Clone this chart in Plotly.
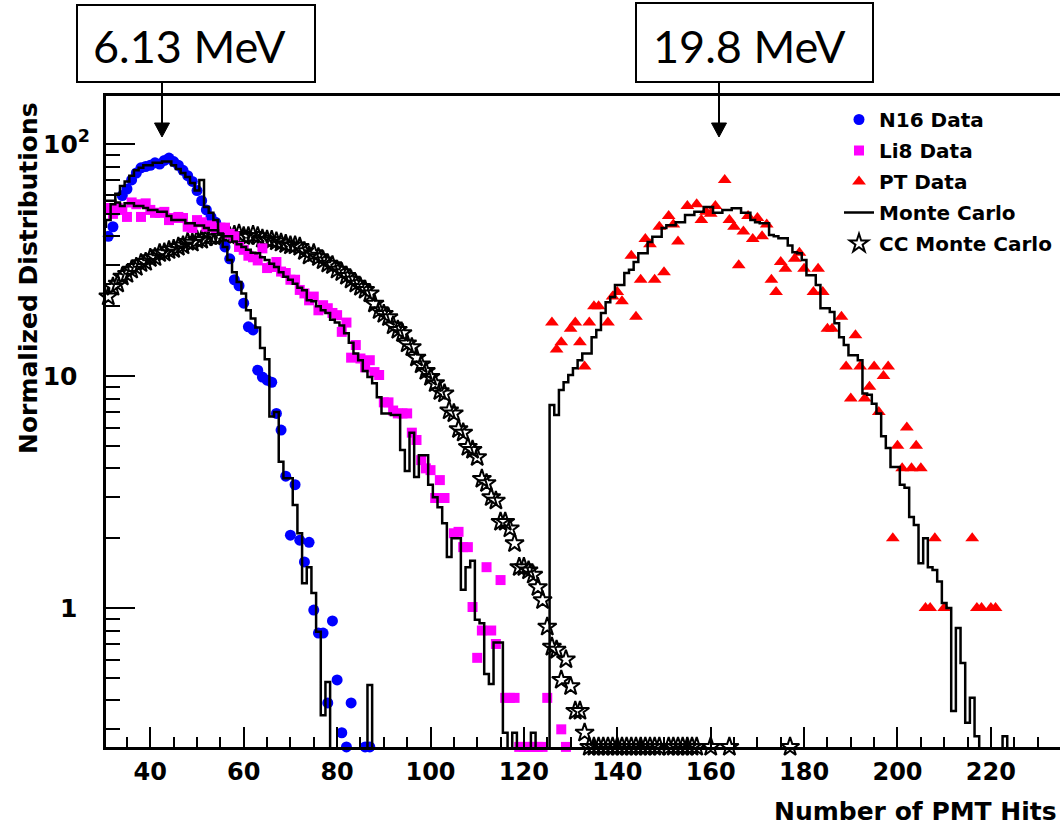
import plotly.graph_objects as go

# ---------------- data ----------------
FLOOR = 0.252   # entries that ROOT draws on the lower frame (underflow)
EMPTY = 0.01    # empty Monte Carlo bins

# N16 data (blue circles)
n16_x = list(range(30, 84)) + [86, 87]
n16_y = [38, 40, 44, 52, 60, 64, 70, 75, 79, 80,
         81, 83, 82, 85, 87, 84, 81, 77, 73, 69,
         63, 57, 52, 48.5, 46, 43, 36, 32, 26, 24.5,
         20.6, 16.3, 15.8, 10.6, 9.9, 9.6, 9.4, 6.9, 5.85, 3.7,
         2.06, 3.4, 1.96, 1.58, 1.92, 0.98, 0.78, 0.78, 0.39, 0.88,
         0.49, 0.29, FLOOR, 0.39, FLOOR, FLOOR]

# N16 Monte Carlo (histogram, 1-hit bins)
n16_mc_x = list(range(30, 89))
n16_mc_y = [44, 47, 55, 61, 66, 69, 73, 77, 79, 81,
            81, 83, 83, 84, 84, 81, 78, 75, 72, 68,
            63, 70, 53.5, 50.5, 47, 41, 36, 31.6, 28, 25.4,
            22.7, 19.2, 17.7, 16.2, 13.2, 11.8, 6.7, 7.0, 4.27, 3.63,
            3.63, 2.78, 2.1, 1.28, 1.5, 1.16, 0.79, 0.345, 0.48, EMPTY,
            EMPTY, EMPTY, EMPTY, EMPTY, EMPTY, EMPTY, EMPTY, 0.466, EMPTY]

# Li8 data (magenta squares)
li8_x = list(range(30, 104)) + [105, 106, 107, 108, 109, 110, 111, 112, 113, 114,
                                115, 116, 117, 118, 119, 120, 121, 122, 123, 124,
                                125, 128, 129]
li8_y = [52, 53, 50, 53, 52, 48.5, 56, 55, 48.5, 55.5,
         52, 50.5, 50.5, 51, 47, 48, 48.5, 48, 44, 43.5,
         47, 46, 44, 44.6, 43.5, 43.6, 43.6, 41, 40, 36,
         35, 33, 32.5, 31.5, 35.5, 29.2, 29.5, 31, 28.2, 27.8,
         26, 26, 23.5, 22.7, 21.2, 22, 19.2, 20.2, 19.6, 18.7,
         18.3, 15.5, 17, 12, 13.6, 11.9, 10.9, 11.7, 10.4, 10.1,
         7.7, 7.7, 7.1, 6.9, 6.9, 6.9, 5.7, 5.3, 4.34, 4.0,
         3.93, 2.98, 3.56, 2.98,
         2.1, 2.13, 1.83, 1.83, 1.01, 0.61, 0.8, 1.5, 0.8, 0.7,
         1.32, 0.41, 0.41, 0.41, FLOOR, FLOOR, FLOOR, FLOOR, FLOOR, FLOOR,
         0.41, 0.30, FLOOR]

# Li8 Monte Carlo
li8_mc_x = list(range(30, 125))
li8_mc_y = [57, 57, 57, 56, 54, 55.5, 55.5, 54, 54, 53,
            52, 52, 51, 51, 49, 47, 47, 47, 45.5, 45.5,
            44.6, 44.6, 43.5, 42.5, 42.5, 41, 40, 40, 38, 37,
            36, 35, 34, 33.8, 32.5, 31.6, 30.5, 29.5, 28, 26.8,
            26, 25, 24, 23.4, 21.2, 21, 20, 19.2, 18.7, 17.5,
            17, 16.5, 15.3, 13.9, 12.5, 11.7, 10.5, 9.9, 9.3, 8.1,
            6.9, 6.9, 6.8, 6.8, 4.8, 3.9, 5.7, 3.67, 4.55, 4.55,
            3.4, 3.0, 2.72, 2.32, 1.66, 2.0, 2.0, 1.2, 1.5, 1.6,
            0.89, 0.86, 0.52, 0.47, 0.71, 0.71, 0.29, EMPTY, 0.29, EMPTY,
            EMPTY, EMPTY, 0.29, EMPTY, EMPTY]

# PT data (red triangles)
pt_x = [126, 127, 128, 130, 131, 132, 133, 134, 135, 136,
        138, 139, 140, 141, 143, 144, 145, 146, 147, 148,
        149, 150, 151, 152, 153, 155, 157, 158, 159, 160,
        161, 163, 164, 165, 166, 167, 168, 169, 170, 171,
        172, 173, 174, 175, 176, 178, 179, 180, 182, 183,
        184, 185, 186, 188, 189, 190, 191, 192, 193, 194,
        195, 196, 197, 198, 199, 200, 201, 202, 203, 204,
        205, 206, 207, 208, 210, 216, 217, 218, 220, 221]
pt_y = [17, 13, 14, 16, 17, 14, 11, 17, 20, 20,
        17, 22, 23, 21, 33, 18, 26, 39, 37, 26,
        44, 28, 49, 45, 38, 54, 55, 47, 51, 50,
        54, 70, 47, 44, 30, 42, 49, 39, 48, 40,
        45, 26, 23, 31, 29, 32, 34, 29, 23, 29,
        23, 16, 16, 18, 11, 8, 15, 11, 8, 9,
        11, 7, 10, 11, 2, 5, 4, 6, 4, 5,
        4, 1, 1, 2, 1, 2, 1, 1, 1, 1]

# PT Monte Carlo
pt_mc_x = list(range(124, 226))
pt_mc_y = [EMPTY, EMPTY, 7.5, 6.8, 8.7, 9.4, 10.1, 10.8, 11.7, 12.5,
           12.5, 14.7, 15.8, 18.7, 20.8, 21.9, 24.7, 24.7, 27.8, 28.7,
           31, 33.8, 33.8, 37.8, 39.8, 39.8, 43.5, 44.7, 44.7, 46,
           46, 49.4, 49.4, 51, 51, 53.5, 53.5, 50.5, 50.5, 52,
           52, 52.8, 52.8, 50.5, 50.5, 47, 46, 45.5, 45.5, 40.5,
           40, 39.3, 39.3, 36.5, 34.2, 33.8, 31.6, 27.2, 27.2, 24.7,
           19.6, 19.6, 18.9, 16.9, 14.7, 13.6, 12.3, 12.3, 11.7, 8.4,
           8.3, 7.6, 6.9, 5.5, 4.9, 4.05, 4.05, 3.4, 3.3, 2.47,
           2.28, 1.56, 2.0, 1.5, 1.46, 1.3, 1.05, 1.0, 0.36, 0.82,
           0.58, 0.32, 0.41, 0.28, EMPTY, EMPTY, EMPTY, EMPTY, EMPTY, 0.28,
           EMPTY, EMPTY]

# CC Monte Carlo (open stars)
cc_x = list(range(30, 150)) + [151, 152, 153, 154, 155, 156, 157, 160, 164, 177]
cc_y = [21.3, 22, 24.2, 25, 26.8, 27.5, 28.7, 29.5, 30.6, 31,
        32.2, 32.5, 33.8, 34, 34.8, 35.2, 36, 36.5, 37.8, 37.5,
        38.6, 38.6, 39.5, 40, 39.5, 40, 40.5, 40, 40.5, 41,
        40, 40, 40.5, 40, 39, 38.6, 38.5, 38, 37.5, 37,
        36.5, 36.5, 36, 34.5, 33, 33.8, 32.5, 31.5, 30.5, 30,
        28.7, 28, 27, 26, 25, 24.2, 23.5, 22.7, 20.5, 19.2,
        18.5, 17.9, 16.5, 15.8, 15.3, 13.8, 13.3, 12, 11.2, 10.5,
        9.9, 9.3, 8.6, 8.4, 7.1, 6.9, 5.9, 5.7, 4.94, 4.8,
        4.47, 3.6, 3.45, 3.0, 2.9, 2.35, 2.35, 2.2, 1.9, 1.5,
        1.5, 1.45, 1.39, 1.23, 1.08, 0.83, 0.68, 0.66, 0.49, 0.6,
        0.46, 0.36, 0.36, 0.29] + [FLOOR] * 26

# axis tick labels
y_tickvals = [1, 10, 100]
y_ticktext = ["1\u2002", "10\u2002", "10<sup>2</sup>"]
y_minor = [m * d for d in (0.1, 1, 10) for m in range(2, 10)]

# ---------------- figure ----------------
FONT = "DejaVu Sans"
fig = go.Figure()

fig.add_trace(go.Scatter(
    x=cc_x, y=cc_y, mode="markers", name="CC Monte Carlo", legendrank=5,
    legendgroup="cc", cliponaxis=False,
    marker=dict(symbol="star-open", size=14, color="black",
                line=dict(width=2, color="black"))))

fig.add_trace(go.Scatter(
    x=n16_x, y=n16_y, mode="markers", name="N16 Data", legendrank=1,
    legendgroup="n16", cliponaxis=False,
    marker=dict(symbol="circle", size=11, color="#0000ff")))

fig.add_trace(go.Scatter(
    x=li8_x, y=li8_y, mode="markers", name="Li8 Data", legendrank=2,
    legendgroup="li8", cliponaxis=False,
    marker=dict(symbol="square", size=10, color="#ff00ff")))

fig.add_trace(go.Scatter(
    x=pt_x, y=pt_y, mode="markers", name="PT Data", legendrank=3,
    legendgroup="pt", cliponaxis=False,
    marker=dict(symbol="triangle-up", size=12, color="#ff0000")))

for i, (xs, ys) in enumerate([(n16_mc_x, n16_mc_y),
                              (li8_mc_x, li8_mc_y),
                              (pt_mc_x, pt_mc_y)]):
    fig.add_trace(go.Scatter(
        x=xs, y=ys, mode="lines", name="Monte Carlo", legendrank=4,
        legendgroup="mc", showlegend=(i == 0),
        line=dict(shape="hvh", color="black", width=2.5)))

W, H = 1060, 825
ML, MR, MT, MB = 106, 0, 96, 78
PW, PH = W - ML - MR, H - MT - MB


def px(xp):
    return (xp - ML) / PW


def py(yp):
    return (H - MB - yp) / PH


def arrow(xc, y_top, y_tip, half=7.5, head=14):
    return [
        dict(type="line", xref="paper", yref="paper",
             x0=px(xc), x1=px(xc), y0=py(y_top), y1=py(y_tip - head + 1),
             line=dict(color="black", width=2)),
        dict(type="path", xref="paper", yref="paper",
             path=(f"M {px(xc - half)},{py(y_tip - head)} "
                   f"L {px(xc + half)},{py(y_tip - head)} "
                   f"L {px(xc)},{py(y_tip)} Z"),
             line=dict(color="black", width=1), fillcolor="black"),
    ]


shapes = [
    dict(type="rect", xref="paper", yref="paper",
         x0=px(77), x1=px(315), y0=py(82), y1=py(5),
         line=dict(color="black", width=2), fillcolor="white"),
    dict(type="rect", xref="paper", yref="paper",
         x0=px(636), x1=px(873), y0=py(82), y1=py(3),
         line=dict(color="black", width=2), fillcolor="white"),
] + arrow(162, 82, 137) + arrow(719, 82, 137)

MEV_FONT = dict(family="Lato, Liberation Sans", size=45, color="black",
                weight="normal")

fig.update_layout(
    width=W, height=H,
    margin=dict(l=ML, r=MR, t=MT, b=MB, pad=0),
    paper_bgcolor="white", plot_bgcolor="white",
    font=dict(family=FONT, size=24, color="black", weight="bold"),
    legend=dict(x=px(839), y=py(100), xanchor="left", yanchor="top",
                bgcolor="rgba(0,0,0,0)", borderwidth=0,
                font=dict(family=FONT, size=20, color="black", weight="bold"),
                tracegroupgap=2, itemsizing="trace"),
    xaxis=dict(range=[30.51, 234.8], showline=True, linewidth=3,
               linecolor="black", mirror=True, showgrid=False, zeroline=False,
               ticks="inside", ticklen=20, tickwidth=2, tickcolor="black",
               tickmode="linear", tick0=0, dtick=20,
               minor=dict(ticks="inside", ticklen=10, tickwidth=2,
                          tickcolor="black", dtick=5, tick0=0, showgrid=False),
               tickfont=dict(family=FONT, size=24, weight="bold"),
               ticklabelstandoff=1),
    yaxis=dict(type="log", range=[-0.599, 2.207], showline=True, linewidth=3,
               linecolor="black", mirror=False, showgrid=False, zeroline=False,
               ticks="inside", ticklen=29, tickwidth=2, tickcolor="black",
               tickmode="array", tickvals=y_tickvals, ticktext=y_ticktext,
               minor=dict(ticks="inside", ticklen=14, tickwidth=2,
                          tickcolor="black", tickmode="array",
                          tickvals=y_minor, showgrid=False),
               tickfont=dict(family=FONT, size=25, weight="bold"),
               ticklabelstandoff=8),
    shapes=shapes,
    annotations=[
        dict(x=px(189), y=py(46), xref="paper", yref="paper",
             text="6.13 MeV", showarrow=False, xanchor="center", yanchor="middle",
             font=MEV_FONT),
        dict(x=px(749), y=py(46), xref="paper", yref="paper",
             text="19.8 MeV", showarrow=False, xanchor="center", yanchor="middle",
             font=MEV_FONT),
        dict(x=px(28), y=py(278), xref="paper", yref="paper",
             text="Normalized Distributions", textangle=-90, showarrow=False,
             xanchor="center", yanchor="middle",
             font=dict(family=FONT, size=25, color="black", weight="bold")),
        dict(x=px(915), y=py(811), xref="paper", yref="paper",
             text="Number of PMT Hits", showarrow=False,
             xanchor="center", yanchor="middle",
             font=dict(family=FONT, size=25, color="black", weight="bold")),
    ],
)

fig.write_html("out.html")
